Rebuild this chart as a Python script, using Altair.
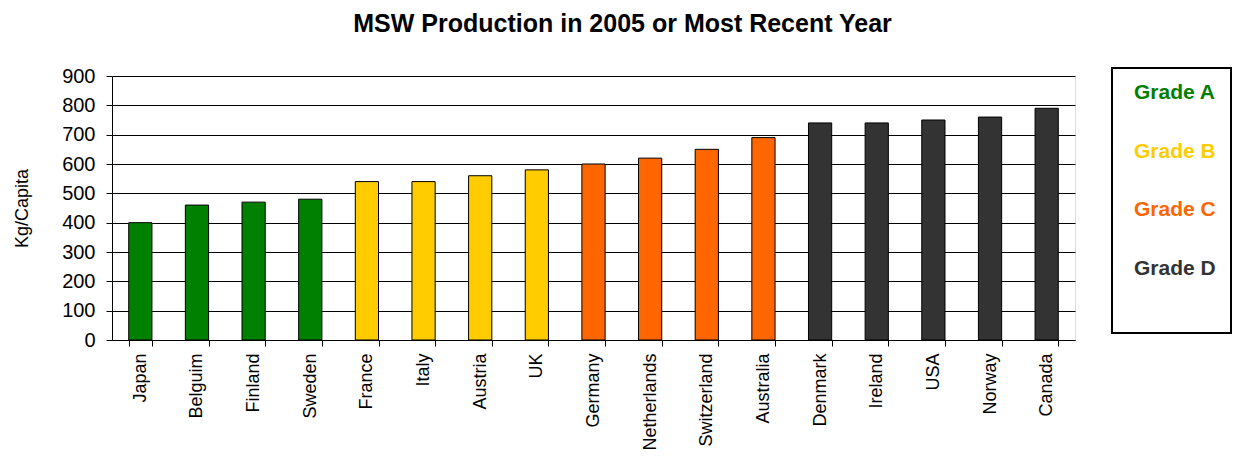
import altair as alt
import pandas as pd

countries = ["Japan", "Belguim", "Finland", "Sweden", "France", "Italy", "Austria", "UK",
             "Germany", "Netherlands", "Switzerland", "Australia", "Denmark", "Ireland",
             "USA", "Norway", "Canada"]
values = [400, 460, 470, 480, 540, 540, 560, 580, 600, 620, 650, 690, 740, 740, 750, 760, 790]
grades = ["Grade A", "Grade A", "Grade A", "Grade A",
          "Grade B", "Grade B", "Grade B", "Grade B",
          "Grade C", "Grade C", "Grade C", "Grade C",
          "Grade D", "Grade D", "Grade D", "Grade D", "Grade D"]
grade_names = ["Grade A", "Grade B", "Grade C", "Grade D"]
grade_colors = ["#008000", "#FFCC00", "#FF6600", "#333333"]
y_ticks = [0, 100, 200, 300, 400, 500, 600, 700, 800, 900]

FONT = "Liberation Sans"

df = pd.DataFrame({"Country": countries, "Value": values, "Grade": grades})
legend_df = pd.DataFrame({"Grade": grade_names})
frame_df = pd.DataFrame({"frame": [1]})

color_scale = alt.Scale(domain=grade_names, range=grade_colors)

bars = alt.Chart(df).mark_bar(stroke="black", strokeWidth=1).encode(
    x=alt.X("Country:N", sort=countries,
            scale=alt.Scale(paddingInner=0.59, paddingOuter=0.295),
            axis=alt.Axis(title=None, labelAngle=-90, labelAlign="right", labelBaseline="middle",
                          labelFontSize=18, labelFont=FONT, labelColor="black", labelPadding=7,
                          tickBand="extent", tickSize=6, tickColor="black",
                          domainColor="black", labelLimit=200)),
    y=alt.Y("Value:Q", scale=alt.Scale(domain=[0, 900]),
            axis=alt.Axis(values=y_ticks, title="Kg/Capita", titleFont=FONT, titleFontSize=18,
                          titleFontWeight="normal", titleColor="black", titlePadding=30,
                          labelFont=FONT, labelFontSize=20, labelColor="black", labelPadding=11,
                          tickSize=6, tickColor="black", domainColor="black",
                          grid=True, gridColor="black", gridOpacity=1, gridWidth=1)),
    color=alt.Color("Grade:N", scale=color_scale, legend=None),
).properties(width=963, height=264)

legend_frame = alt.Chart(frame_df).mark_rect(fill="white", stroke="black", strokeWidth=2).encode(
    x=alt.value(0), x2=alt.value(119), y=alt.value(-8), y2=alt.value(257)
)

legend_text = alt.Chart(legend_df).mark_text(align="left", baseline="middle", fontSize=21,
                                             fontWeight="bold", font=FONT).encode(
    y=alt.Y("Grade:N", sort=grade_names, axis=None,
            scale=alt.Scale(range=[17, 193], padding=0)),
    x=alt.value(22),
    text="Grade:N",
    color=alt.Color("Grade:N", scale=color_scale, legend=None),
)

legend = alt.layer(legend_frame, legend_text).properties(
    width=119, height=264,
    view=alt.ViewBackground(stroke="transparent", strokeWidth=0, fill="transparent"))

chart = alt.hconcat(bars, legend, spacing=35).properties(
    title=alt.TitleParams("MSW Production in 2005 or Most Recent Year", font=FONT, fontSize=25,
                          fontWeight="bold", color="black", anchor="middle", offset=29),
    padding={"left": 5, "top": 3, "right": 0, "bottom": 0},
).configure_view(stroke=None).configure(background="white")

chart.save("out.html", embed_options={"renderer": "svg", "actions": False})
